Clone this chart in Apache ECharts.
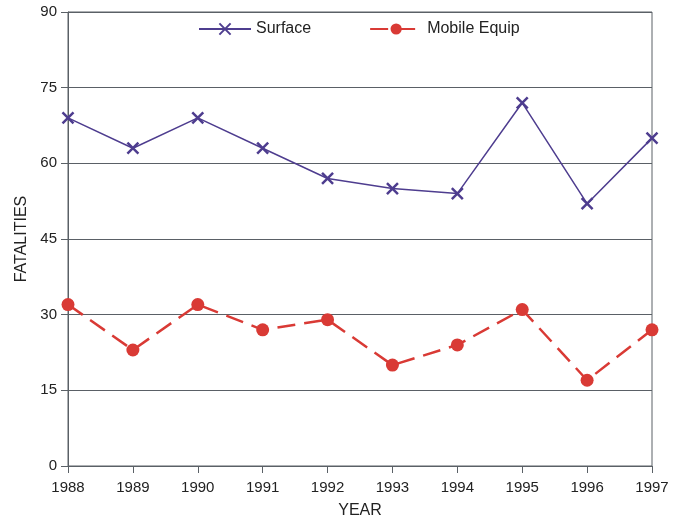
<!DOCTYPE html>
<html>
<head>
<meta charset="utf-8">
<script src="https://cdn.jsdelivr.net/npm/echarts@6/dist/echarts.min.js"></script>
<style>
  html, body { margin: 0; padding: 0; background: #fff; }
  #chart { width: 680px; height: 518px; }
</style>
</head>
<body>
<div id="chart"></div>
<script>
var years = ['1988', '1989', '1990', '1991', '1992', '1993', '1994', '1995', '1996', '1997'];
var surface = [69, 63, 69, 63, 57, 55, 54, 72, 52, 65];
var mobileEquip = [32, 23, 32, 27, 29, 20, 24, 31, 17, 27];

var chart = echarts.init(document.getElementById('chart'));
var font = "'Liberation Sans', Arial, sans-serif";

chart.setOption({
    animation: false,
    textStyle: { fontFamily: font },
    grid: {
        left: 68, right: 28, top: 12, bottom: 52,
        containLabel: false, outerBoundsMode: 'none',
        show: true, borderColor: '#5a6066', borderWidth: 1
    },
    legend: {
        top: 16,
        left: 193,
        itemGap: 58,
        itemWidth: 52,
        itemHeight: 14,
        textStyle: { fontSize: 16, color: '#222', fontFamily: font },
        data: ['Surface', 'Mobile Equip']
    },
    xAxis: {
        type: 'category',
        data: years,
        boundaryGap: false,
        name: 'YEAR',
        nameLocation: 'middle',
        nameGap: 37,
        nameTextStyle: { fontSize: 16, color: '#222', fontFamily: font },
        axisLine: { lineStyle: { color: '#5a6066' } },
        axisTick: { show: true, length: 7, lineStyle: { color: '#5a6066' } },
        axisLabel: { fontSize: 15, color: '#222', margin: 14, fontFamily: font }
    },
    yAxis: {
        type: 'value',
        min: 0, max: 90, interval: 15,
        name: 'FATALITIES',
        nameLocation: 'middle',
        nameGap: 36,
        nameTextStyle: { fontSize: 16, color: '#222', fontFamily: font },
        axisLine: { show: true, lineStyle: { color: '#5a6066' } },
        axisTick: { show: true, length: 7, lineStyle: { color: '#5a6066' } },
        axisLabel: { fontSize: 15, color: '#222', margin: 11, fontFamily: font },
        splitLine: { lineStyle: { color: '#5a6066', width: 1 } }
    },
    series: [
        {
            name: 'Surface',
            type: 'line',
            data: surface,
            symbol: 'path://M-1,-1L1,1M1,-1L-1,1',
            symbolSize: 11,
            itemStyle: { color: '#4e3d8f', borderColor: '#4e3d8f', borderWidth: 2.5 },
            lineStyle: { color: '#4e3d8f', width: 1.5 }
        },
        {
            name: 'Mobile Equip',
            type: 'line',
            data: mobileEquip,
            symbol: 'circle',
            symbolSize: 13,
            itemStyle: { color: '#d93a35' },
            lineStyle: { color: '#d93a35', width: 2.5, type: [18, 9] }
        }
    ]
});
</script>
</body>
</html>
